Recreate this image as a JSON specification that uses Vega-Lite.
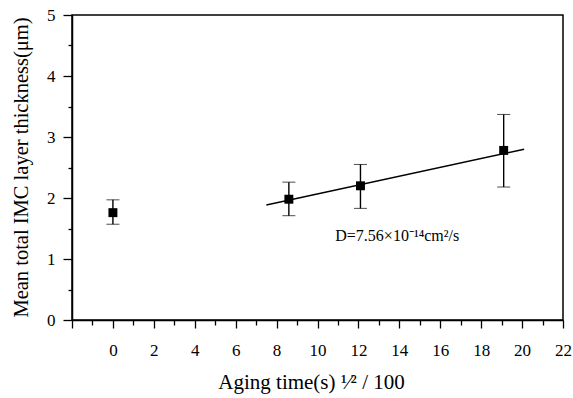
{
  "$schema": "https://vega.github.io/schema/vega-lite/v6.json",
  "width": 491,
  "height": 305,
  "autosize": {"type": "none"},
  "padding": {"left": 72, "top": 15, "right": 10, "bottom": 78},
  "background": "white",
  "config": {
    "view": {"stroke": "black", "strokeWidth": 1.5},
    "font": "Liberation Serif"
  },
  "datasets": {
    "pts": [
      {"t": 0, "thk": 1.76, "lo": 1.57, "hi": 1.97},
      {"t": 8.6, "thk": 1.98, "lo": 1.71, "hi": 2.26},
      {"t": 12.1, "thk": 2.2, "lo": 1.83, "hi": 2.55},
      {"t": 19.1, "thk": 2.78, "lo": 2.18, "hi": 3.37}
    ],
    "fit": [
      {"t": 7.5, "thk": 1.885},
      {"t": 20.1, "thk": 2.8}
    ],
    "note": [
      {"t": 13.9, "thk": 1.38, "label": "D=7.56×10⁻¹⁴cm²/s"}
    ]
  },
  "encoding": {
    "x": {
      "field": "t",
      "type": "quantitative",
      "scale": {"domain": [-2, 22], "nice": false, "zero": false},
      "axis": {
        "values": [-2, -1, 0, 1, 2, 3, 4, 5, 6, 7, 8, 9, 10, 11, 12, 13, 14, 15, 16, 17, 18, 19, 20, 21, 22],
        "labelExpr": "datum.value >= 0 && datum.value % 2 === 0 ? format(datum.value, 'd') : ''",
        "tickSize": {"condition": {"test": "datum.value % 2 === 0", "value": 8}, "value": 5},
        "labelPadding": 14,
        "labelFont": "Liberation Serif",
        "labelFontSize": 17,
        "labelColor": "black",
        "labelFlush": false,
        "labelOverlap": false,
        "domainColor": "black",
        "domainWidth": 1.5,
        "tickColor": "black",
        "tickWidth": 1.3,
        "grid": false,
        "title": "Aging time(s) ¹⁄² / 100",
        "titleFont": "Liberation Serif",
        "titleFontSize": 21,
        "titleFontWeight": "normal",
        "titleColor": "black",
        "titleX": 239,
        "titleY": 62,
        "titleBaseline": "middle"
      }
    },
    "y": {
      "field": "thk",
      "type": "quantitative",
      "scale": {"domain": [0, 5], "nice": false},
      "axis": {
        "values": [0, 0.5, 1, 1.5, 2, 2.5, 3, 3.5, 4, 4.5, 5],
        "labelExpr": "datum.value % 1 === 0 ? format(datum.value, 'd') : ''",
        "tickSize": {"condition": {"test": "datum.value % 1 === 0", "value": 9}, "value": 4},
        "labelPadding": 8,
        "labelFont": "Liberation Serif",
        "labelFontSize": 17,
        "labelColor": "black",
        "labelFlush": false,
        "labelOverlap": false,
        "domainColor": "black",
        "domainWidth": 1.5,
        "tickColor": "black",
        "tickWidth": 1.3,
        "grid": false,
        "title": "Mean total IMC layer thickness(μm)",
        "titleFont": "Liberation Serif",
        "titleFontSize": 20.5,
        "titleFontWeight": "normal",
        "titleColor": "black",
        "titleX": -51,
        "titleY": 152,
        "titleAngle": -90,
        "titleAlign": "center",
        "titleBaseline": "middle"
      }
    }
  },
  "layer": [
    {
      "data": {"name": "fit"},
      "mark": {"type": "line", "color": "black", "strokeWidth": 1.4}
    },
    {
      "data": {"name": "pts"},
      "mark": {"type": "errorbar", "color": "black", "rule": {"color": "black", "strokeWidth": 1.4}, "ticks": {"size": 13, "color": "black", "strokeWidth": 1.4}},
      "encoding": {
        "y": {"field": "lo", "type": "quantitative"},
        "y2": {"field": "hi"}
      }
    },
    {
      "data": {"name": "pts"},
      "mark": {"type": "point", "shape": "square", "filled": true, "color": "black", "opacity": 1, "size": 80}
    },
    {
      "data": {"name": "note"},
      "mark": {"type": "text", "fontSize": 16, "color": "black", "align": "center", "baseline": "middle", "font": "Liberation Serif"},
      "encoding": {"text": {"field": "label"}}
    }
  ]
}
